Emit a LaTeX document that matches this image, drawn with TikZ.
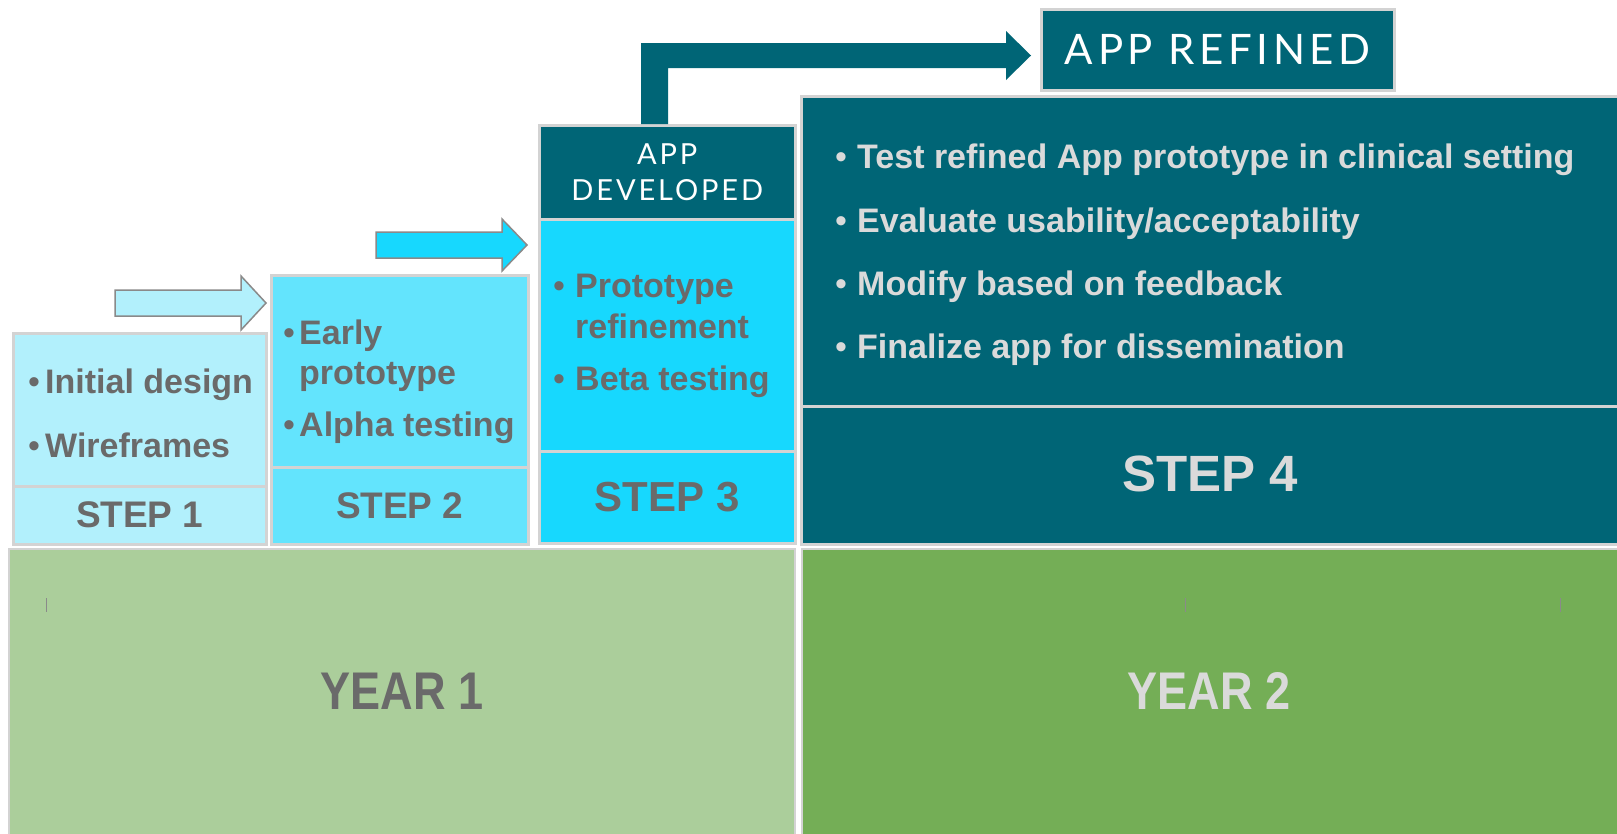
\documentclass[tikz,border=0pt]{standalone}
\usepackage{fontspec}
\usepackage{graphicx}
\setmainfont{Liberation Sans}
\newfontfamily\thinfont{Lato}
\usetikzlibrary{calc}
\definecolor{cA}{HTML}{B2F0FC}
\definecolor{cB}{HTML}{63E4FD}
\definecolor{cC}{HTML}{17D8FE}
\definecolor{teal}{HTML}{006576}
\definecolor{gA}{HTML}{ABCE9B}
\definecolor{gB}{HTML}{74AE56}
\definecolor{bgray}{HTML}{D3D3D3}
\definecolor{tgray}{HTML}{6A6A6A}
\definecolor{tlight}{HTML}{DADADA}
\definecolor{agray}{HTML}{8A8A8A}
\begin{document}
\begin{tikzpicture}[x=1pt,y=-1pt,
  box/.style={draw=bgray, line width=2.5pt, inner sep=0pt, anchor=north west},
  bul/.style={anchor=base west, inner sep=0pt, text=tgray, font=\fontsize{34}{40}\selectfont\bfseries},
  dot/.style={anchor=base west, inner sep=0pt, text=tgray, font=\fontsize{34}{40}\selectfont},
  bulL/.style={bul, text=tlight},
  dotL/.style={dot, text=tlight},
  steplab/.style={text=tgray, font=\fontsize{37}{40}\selectfont\bfseries},
  yearlab/.style={font=\fontsize{53}{60}\selectfont\bfseries},
  thinlab/.style={text=white, align=center},
  tick/.style={draw=agray, line width=0.8pt}
]
\useasboundingbox (0,0) rectangle (1617,833);
\fill[white] (0,0) rectangle (1617,833);

% year boxes
\node[box, draw=bgray, line width=2pt, fill=gA, minimum width=786pt, minimum height=290pt] (y1) at (8,548) {};
\node[box, draw=bgray, line width=2pt, fill=gB, minimum width=830pt, minimum height=290pt] (y2) at (801,548) {};
\node[yearlab, text=tgray] at ($(y1.north)+(0,143)$) {\scalebox{0.85}[1]{YEAR 1}};
\node[yearlab, text=tlight] at ($(y2.north west)+(408,143)$) {\scalebox{0.85}[1]{YEAR 2}};
\draw[tick] (46,598) -- (46,612);
\draw[tick] (1185,598) -- (1185,612);
\draw[tick] (1560,598) -- (1560,612);

% step 1
\node[box, fill=cA, minimum width=253pt, minimum height=153pt] (s1t) at (12,332) {};
\node[box, fill=cA, minimum width=253pt, minimum height=58pt] (s1l) at (12,485) {};
\node[steplab] at (s1l.center) {STEP 1};
\node[dot] at (28,393) {•};
\node[bul] at (45,393) {Initial design};
\node[dot] at (28,457) {•};
\node[bul] at (45,457) {Wireframes};

% step 2
\node[box, fill=cB, minimum width=257pt, minimum height=192pt] (s2t) at (270,274) {};
\node[box, fill=cB, minimum width=257pt, minimum height=77pt] (s2l) at (270,466) {};
\node[steplab] at (s2l.center) {STEP 2};
\node[dot] at (283,344) {•};
\node[bul] at (299,344) {Early};
\node[bul] at (299,384) {prototype};
\node[dot] at (283,436) {•};
\node[bul] at (299,436) {Alpha testing};

% step 3
\node[box, fill=teal, minimum width=256pt, minimum height=94pt] (s3d) at (538,124) {};
\node[box, fill=cC, minimum width=256pt, minimum height=232pt] (s3t) at (538,218) {};
\node[box, fill=cC, minimum width=256pt, minimum height=92pt] (s3l) at (538,450) {};
\node[steplab, font=\fontsize{42}{46}\selectfont\bfseries] at (s3l.center) {STEP 3};
\node[thinlab, font=\thinfont\fontsize{29}{36}\selectfont\addfontfeature{LetterSpace=10}] at (s3d.center) {APP\\DEVELOPED};
\node[dot] at (553,297) {•};
\node[bul] at (575,297) {Prototype};
\node[bul] at (575,338) {refinement};
\node[dot] at (553,390) {•};
\node[bul] at (575,390) {Beta testing};

% step 4
\node[box, fill=teal, minimum width=830pt, minimum height=310pt] (s4t) at (800,95) {};
\node[box, fill=teal, minimum width=830pt, minimum height=138pt] (s4l) at (800,405) {};
\node[steplab, text=tlight, font=\fontsize{51}{56}\selectfont\bfseries] at ($(s4l.north west)+(410,69)$) {STEP 4};
\node[dotL] at (835,168) {•};
\node[bulL] at (857,168) {Test refined App prototype in clinical setting};
\node[dotL] at (835,232) {•};
\node[bulL] at (857,232) {Evaluate usability/acceptability};
\node[dotL] at (835,295) {•};
\node[bulL] at (857,295) {Modify based on feedback};
\node[dotL] at (835,358) {•};
\node[bulL] at (857,358) {Finalize app for dissemination};

% app refined
\node[box, fill=teal, minimum width=353pt, minimum height=81pt] (ref) at (1040,8) {};
\node[thinlab, font=\thinfont\fontsize{42}{46}\selectfont\addfontfeature{LetterSpace=11}] at (ref.center) {APP REFINED};

% block arrows
\draw[draw=agray, line width=1.5pt, fill=cA] (115,290) -- (241,290) -- (241,276) -- (266,303) -- (241,330) -- (241,316) -- (115,316) -- cycle;
\draw[draw=agray, line width=1.5pt, fill=cC] (376,232) -- (502,232) -- (502,219) -- (527,245) -- (502,271) -- (502,258) -- (376,258) -- cycle;
\fill[teal] (s3d.north -| 641,0) -- (641,43) -- (1006,43) -- (1006,31) -- (1031,55.5) -- (1006,80) -- (1006,68) -- (668,68) -- (s3d.north -| 668,0) -- cycle;
\end{tikzpicture}
\end{document}
